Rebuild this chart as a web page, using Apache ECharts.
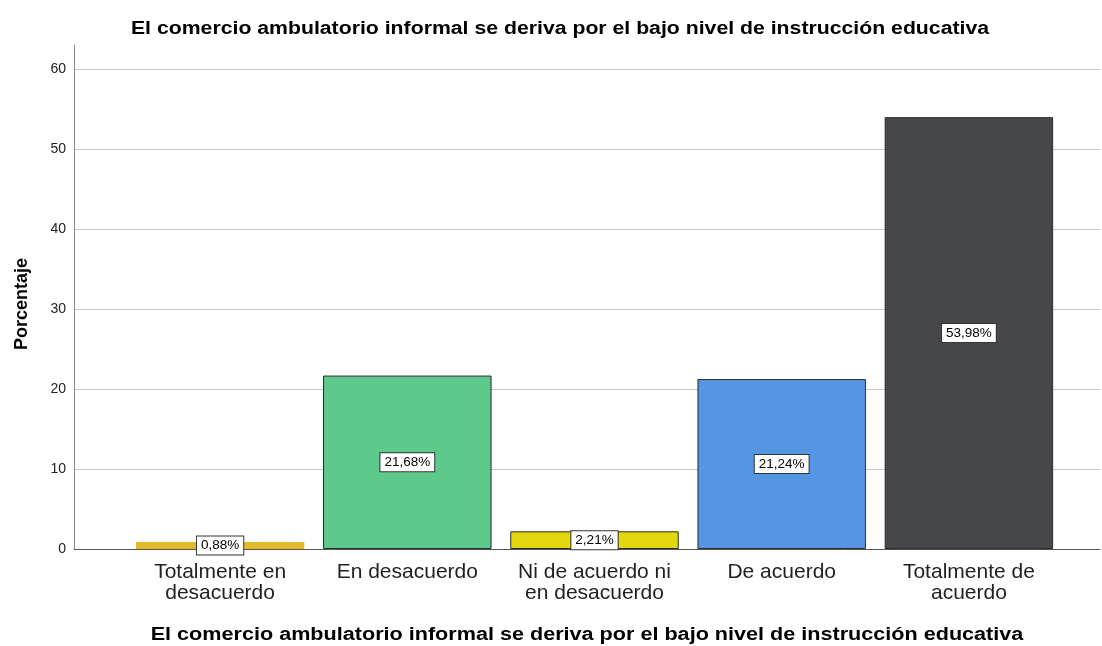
<!DOCTYPE html>
<html>
<head>
<meta charset="utf-8">
<script src="https://cdn.jsdelivr.net/npm/echarts@6/dist/echarts.min.js"></script>
<style>
  html, body { margin: 0; padding: 0; background: #fff; }
  #chart { width: 1102px; height: 646px; }
</style>
</head>
<body>
<div id="chart"></div>
<script>
var categories = ["Totalmente en\ndesacuerdo", "En desacuerdo", "Ni de acuerdo ni\nen desacuerdo", "De acuerdo", "Totalmente de\nacuerdo"];
var percentages = [0.88, 21.68, 2.21, 21.24, 53.98];
var barColors = ["#E1B92A", "#5DC98B", "#E3D70F", "#5596E2", "#46474A"];
var yTicks = [0, 10, 20, 30, 40, 50, 60];
var titleText = "El comercio ambulatorio informal se deriva por el bajo nivel de instrucción educativa";
var yName = "Porcentaje";

var font = "'Liberation Sans', Arial, sans-serif";
var chart = echarts.init(document.getElementById("chart"));

chart.setOption({
  animation: false,
  backgroundColor: "#fff",
  graphic: [
    {
      type: "text", x: 560, y: 29, scaleX: 1.18,
      style: { text: titleText, align: "center", verticalAlign: "middle",
               font: "bold 18px " + font, fill: "#000" }
    },
    {
      type: "text", x: 587, y: 635, scaleX: 1.2,
      style: { text: titleText, align: "center", verticalAlign: "middle",
               font: "bold 18px " + font, fill: "#000" }
    },
    {
      type: "text", x: 22, y: 304, rotation: Math.PI / 2,
      style: { text: yName, align: "center", verticalAlign: "middle",
               font: "bold 18px " + font, fill: "#000" }
    }
  ],
  grid: [
    // full plot frame (axis lines, split lines)
    { left: 74, right: 2, top: 45, bottom: 97, outerBoundsMode: "none" },
    // bar band area
    { left: 126.5, right: 39.5, top: 45, bottom: 97, outerBoundsMode: "none" }
  ],
  xAxis: [
    {
      gridIndex: 0,
      type: "category",
      data: categories,
      axisLine: { lineStyle: { color: "#555", width: 1 } },
      axisTick: { show: false },
      axisLabel: { show: false }
    },
    {
      gridIndex: 1,
      type: "category",
      data: categories,
      axisLine: { show: false },
      axisTick: { show: false },
      axisLabel: {
        interval: 0,
        margin: 13,
        fontFamily: font,
        fontSize: 21,
        lineHeight: 21,
        color: "#222",
        align: "center"
      }
    }
  ],
  yAxis: [
    {
      gridIndex: 0,
      type: "value",
      min: 0,
      max: 63,
      interval: 10,
      axisLine: { show: true, lineStyle: { color: "#888", width: 1 } },
      axisTick: { show: false },
      axisLabel: {
        showMaxLabel: false,
        margin: 8,
        fontFamily: font,
        fontSize: 14,
        color: "#222",
        formatter: function (v) { return yTicks.indexOf(v) >= 0 ? String(v) : ""; }
      },
      splitLine: { show: true, showMinLine: false, showMaxLine: false, lineStyle: { color: "#c8c8c8", width: 1 } }
    },
    {
      gridIndex: 1,
      type: "value",
      min: 0,
      max: 63,
      show: false
    }
  ],
  series: [
    {
      type: "bar",
      xAxisIndex: 1,
      yAxisIndex: 1,
      barWidth: "90%",
      data: percentages.map(function (v, i) {
        return {
          value: v,
          itemStyle: {
            color: barColors[i],
            borderColor: i === 0 ? barColors[i] : "#2b2b2b",
            borderWidth: 1
          }
        };
      }),
      label: {
        show: true,
        position: "inside",
        formatter: function (p) { return p.value.toFixed(2).replace(".", ",") + "%"; },
        fontFamily: font,
        fontSize: 13.5,
        color: "#000",
        backgroundColor: "#fff",
        borderColor: "#333",
        borderWidth: 1,
        padding: [2, 4, 2, 4]
      }
    }
  ]
});
</script>
</body>
</html>
